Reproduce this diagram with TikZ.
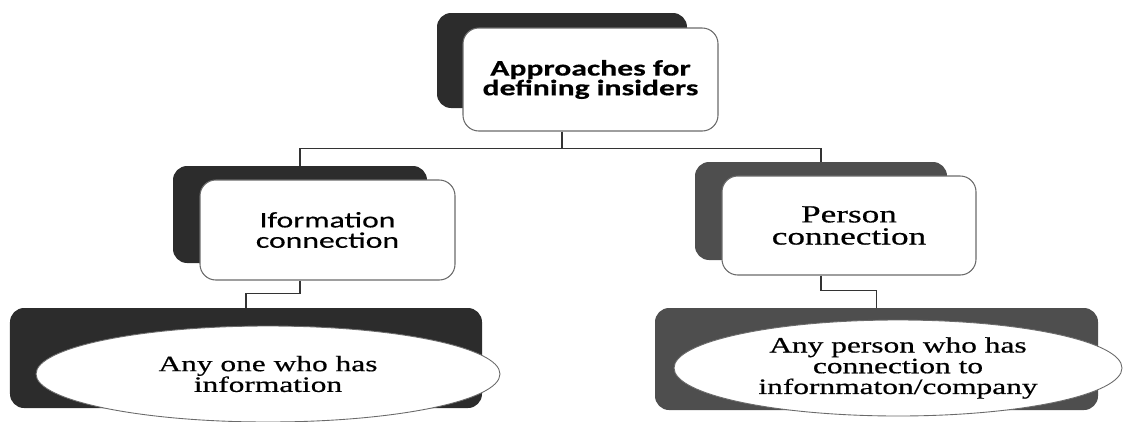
\documentclass[tikz,border=0pt]{standalone}
\usepackage{fontspec}
\setmainfont{Liberation Serif}[FakeStretch=1.43, FakeBold=0.6]
\newfontfamily\calfont{Carlito}[FakeStretch=1.43, FakeBold=0.4]
\usepackage{xcolor}
\usepackage{tikz}
\usetikzlibrary{
    positioning, calc, shapes.geometric
}
\definecolor{backdark}{HTML}{2c2c2c}
\definecolor{backgrey}{HTML}{4e4e4e}
\definecolor{frameline}{HTML}{6a6a6a}
\definecolor{linkline}{HTML}{333333}

\begin{document}
\begin{tikzpicture}[
    back/.style={
        rectangle, rounded corners=8pt,
        fill=backdark, draw=none,
    },
    front/.style={
        rectangle, rounded corners=9pt,
        fill=white, draw=frameline, line width=0.6pt,
        align=center, inner sep=2pt,
    },
    oval/.style={
        ellipse, fill=white, draw=frameline, line width=0.5pt,
        align=center, inner sep=0pt,
    },
    sanslabel/.style={font=\calfont\fontsize{12.6}{11.6}\selectfont},
    seriflabel/.style={font=\fontsize{12.5}{11.8}\selectfont},
    link/.style={draw=linkline, line width=0.8pt},
]
\useasboundingbox (0,0) rectangle (22.48,-8.42);

% Top level
\node[back, minimum width=5.0cm, minimum height=1.9cm] (topback) at (11.24,-1.21) {};
\node[front, font=\calfont\bfseries\fontsize{12.6}{11.2}\selectfont,
      minimum width=5.1cm, minimum height=2.06cm] (approaches) at (11.81,-1.59)
    {Approaches for\\defining insiders};

% Middle level
\node[back, minimum width=5.08cm, minimum height=1.94cm] (infoback) at (6.0,-4.29) {};
\node[front, sanslabel, minimum width=5.1cm, minimum height=2.0cm] (infoconn) at (6.55,-4.6)
    {Iformation\\connection};

\node[back, fill=backgrey, minimum width=5.04cm, minimum height=1.96cm] (persback) at (16.42,-4.22) {};
\node[front, font=\fontsize{14}{12.6}\selectfont, minimum width=5.08cm, minimum height=1.98cm]
    (persconn) at (16.98,-4.51) {Person\\connection};

% Bottom level
\node[back, minimum width=9.44cm, minimum height=2.0cm] (anyback) at (4.92,-7.16) {};
\node[oval, seriflabel, minimum width=9.28cm, minimum height=1.92cm] (anyone) at (5.36,-7.48)
    {Any one who has\\information};

\node[back, fill=backgrey, minimum width=8.86cm, minimum height=2.04cm] (anypback) at (17.53,-7.18) {};
\node[oval, seriflabel, minimum width=8.96cm, minimum height=1.92cm] (anyperson) at (17.96,-7.36)
    {Any person who has\\connection to\\infornmaton/company};

% Connectors
\draw[link] (topback.center |- approaches.south) -- ++(0,-0.34) -| (infoback.north);
\draw[link] (topback.center |- approaches.south) -- ++(0,-0.34) -| (persback.north);
\draw[link] (infoback.center |- infoconn.south) -- ++(0,-0.26) -| (anyback.north);
\draw[link] (persback.center |- persconn.south) -- ++(0,-0.30) -| (anypback.north);

\end{tikzpicture}
\end{document}
